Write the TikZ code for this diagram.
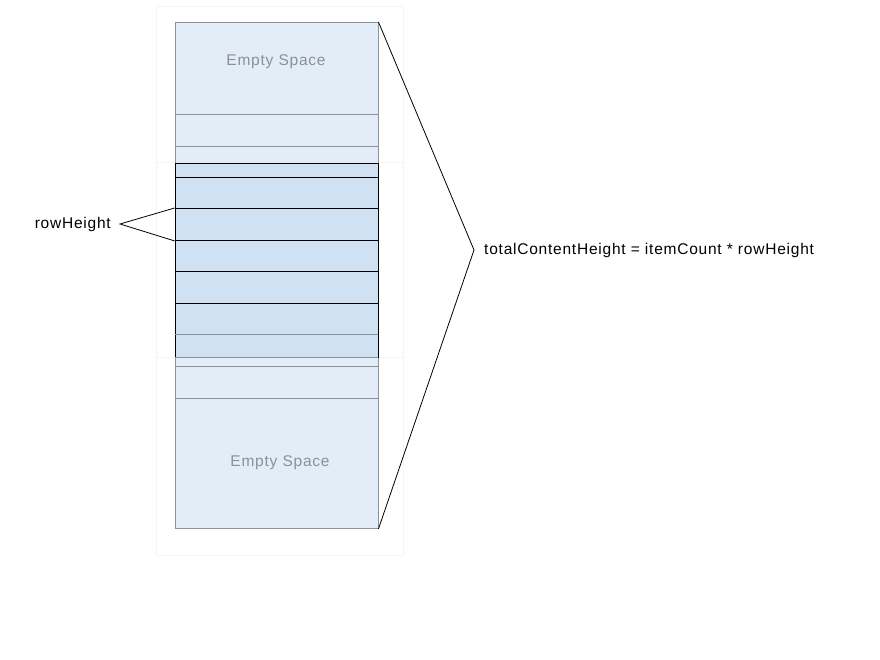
\documentclass[tikz,border=0pt]{standalone}
\usepackage{fontspec}
\newfontfamily\labelfont[LetterSpace=5]{Liberation Sans}
\usepackage{tikz}
\usetikzlibrary{positioning}
\definecolor{lightrow}{RGB}{227,237,247}
\definecolor{darkrow}{RGB}{207,225,242}
\definecolor{rowline}{RGB}{140,148,155}
\definecolor{spacetext}{RGB}{138,145,153}
\tikzstyle{frame} = [draw=black!4, line width=0.6pt]
\tikzstyle{lightcell} = [rectangle, anchor=north, minimum width=203pt, inner sep=0pt, draw=rowline, fill=lightrow, line width=0.9pt]
\tikzstyle{darkcell} = [rectangle, anchor=north, minimum width=203pt, inner sep=0pt, draw=black, fill=darkrow, line width=0.9pt]
\tikzstyle{spacelabel} = [font=\labelfont\fontsize{15.5}{18}\selectfont, text=spacetext]
\tikzstyle{note} = [font=\labelfont\fontsize{15.5}{18}\selectfont, text=black, inner ysep=0pt]
\tikzstyle{line} = [black, line width=0.8pt]

\begin{document}
\begin{tikzpicture}[x=1pt, y=-1pt]
\useasboundingbox (0,0) rectangle (880,660);

% Frames
\draw [frame] (156,6) rectangle (403,162);
\draw [frame] (156,162) rectangle (403,357);
\draw [frame] (156,357) rectangle (403,555);

% Cells
\foreach \name/\top/\bot/\kind in {a1/22/114/lightcell, a2/114/146/lightcell, a3/146/163/lightcell,
  c1/357/366/lightcell, c2/366/398/lightcell, c3/398/528/lightcell,
  b1/163/177/darkcell, b2/177/208/darkcell, b3/208/240/darkcell, b4/240/271/darkcell,
  b5/271/303/darkcell, b6/303/334/darkcell, b7/334/357/darkcell}
  \node (\name) [\kind, minimum height=\bot-\top] at (276.5,\top) {};
\draw [rowline, line width=0.9pt] (b6.south west) -- (b6.south east);
\draw [rowline, line width=0.9pt] (b7.south west) -- (b7.south east);

% Labels
\node (space1) [spacelabel] at (276,62) {Empty Space};
\node (space2) [spacelabel] at (280,463) {Empty Space};
\node (rowheight) [note, anchor=east, inner xsep=9pt] at (120,224) {rowHeight};
\node (total) [note, anchor=west, inner xsep=10pt] at (474,250) {totalContentHeight = itemCount * rowHeight};

% Lines
\draw [line] (b3.north west) -- (rowheight.east) -- (b3.south west);
\draw [line] (a1.north east) -- (total.west) -- (c3.south east);

\end{tikzpicture}
\end{document}
